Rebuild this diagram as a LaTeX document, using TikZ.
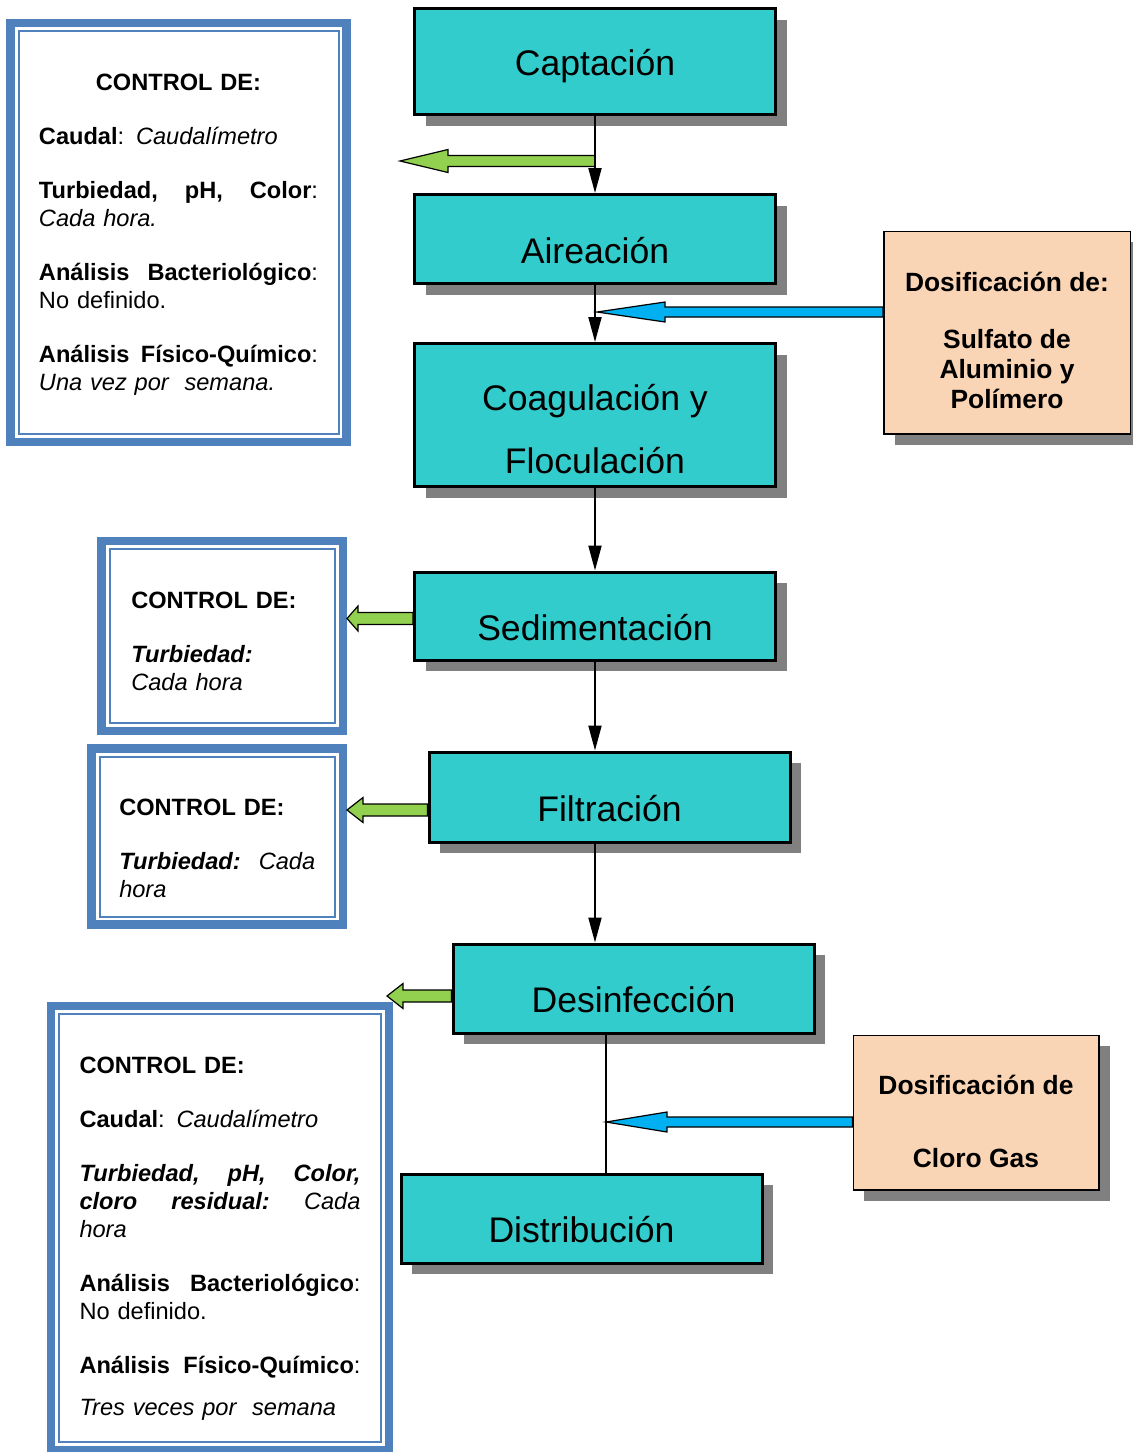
\documentclass[tikz,border=0pt]{standalone}
\usepackage{fontspec}
\setmainfont{Liberation Sans}
\usetikzlibrary{arrows.meta, calc, shadows}
\definecolor{procTeal}{HTML}{33CCCC}
\definecolor{dosPeach}{HTML}{FAD5B5}
\definecolor{ctrlBlue}{HTML}{4F81BD}
\definecolor{arrowGreen}{HTML}{92D050}
\definecolor{arrowBlue}{HTML}{00B0F0}
\definecolor{shadowGray}{HTML}{808080}

\newcommand{\blockleft}[6]{%
  \filldraw[#1] let \p1=(#2), \p2=(#3) in
    (\x1,\y2+#4) -- (\x2+#6,\y2+#4) -- (\x2+#6,\y2+#5) -- (\x2,\y2)
    -- (\x2+#6,\y2-#5) -- (\x2+#6,\y2-#4) -- (\x1,\y2-#4) -- cycle;}

\begin{document}
\begin{tikzpicture}[x=0.5pt, y=-0.5pt,
    procBox/.style={draw=black, line width=1.5pt, fill=procTeal, minimum width=180.5pt, minimum height=44.5pt, inner sep=0pt, font=\fontsize{17.8pt}{21pt}\selectfont, drop shadow={shadow xshift=5.5pt, shadow yshift=-5.5pt, fill=shadowGray, opacity=1}},
    procLine/.style={procBox, text height=24pt, text depth=0pt},
    dosBox/.style={draw=black, line width=0.75pt, fill=dosPeach, align=center, inner sep=0pt, font=\fontsize{13.2pt}{15pt}\selectfont\bfseries, drop shadow={shadow xshift=5.5pt, shadow yshift=-5.5pt, fill=shadowGray, opacity=1}},
    ctrlBox/.style={draw=ctrlBlue, line width=4.25pt, fill=white, align=left, inner sep=0pt, font=\fontsize{11.8pt}{14pt}\selectfont, path picture={\draw[ctrlBlue, line width=1pt] ([shift={(4pt,-4pt)}]path picture bounding box.north west) rectangle ([shift={(-4pt,4pt)}]path picture bounding box.south east);}},
    flowArrow/.style={draw=black, line width=1pt, -{Triangle[length=12.5pt, width=6.5pt]}},
    flowLine/.style={draw=black, line width=1pt},
    greenArrow/.style={draw=black, line width=0.6pt, fill=arrowGreen},
    blueArrow/.style={draw=black, line width=0.6pt, fill=arrowBlue},
]
\useasboundingbox (0,0) rectangle (1132,1452);

\node[procBox, minimum height=53pt, text height=14pt, text depth=0pt] (capt) at (595,61.5) {Captación};
\node[procLine] (aire) at (595,239) {Aireación};
\node[procBox, minimum height=71.5pt, align=center] (coag) at (595,415) {\rule{0pt}{27.2pt}Coagulación y\\[10.5pt]Floculación};
\node[procLine, minimum height=44pt] (sedim) at (595,616) {Sedimentación};
\node[procLine, minimum height=45pt] (filtr) at (609.5,797) {Filtración};
\node[procLine] (desinf) at (633.5,988.5) {Desinfección};
\node[procLine] (distr) at (581.5,1218.5) {Distribución};

\node[dosBox, minimum width=123.25pt, minimum height=101.25pt] (dos1) at (1007,332.5) {\rule{0pt}{17.5pt}Dosificación de:\\[13.5pt]Sulfato de\\Aluminio y\\Polímero};
\node[dosBox, minimum width=122.75pt, minimum height=77.25pt] (dos2) at (976,1112.5) {\rule{0pt}{18.5pt}Dosificación de\\[21.5pt]Cloro Gas};

\node[ctrlBox, minimum width=168pt, minimum height=209.5pt, text width=139.5pt] (ctrl1) at (178.5,232.5) {
    \makebox[\linewidth]{\rule{0pt}{10.5pt}\textbf{CONTROL DE:}}\\[13pt]
    \textbf{Caudal}: \textit{Caudalímetro}\\[13pt]
    \textbf{Turbiedad,}\hfill\textbf{pH,}\hfill\textbf{Color}:\\
    \textit{Cada hora.}\\[13pt]
    \textbf{Análisis}\hfill\textbf{Bacteriológico}:\\
    No definido.\\[13pt]
    \textbf{Análisis}\hfill\textbf{Físico-Químico}:\\
    \textit{Una vez por\ \ semana.}
};
\node[ctrlBox, minimum width=120.75pt, minimum height=95pt, text width=91pt] (ctrl2) at (222.25,636) {
    \rule{0pt}{13.5pt}\textbf{CONTROL DE:}\\[13pt]
    \textbf{\textit{Turbiedad:}}\\
    \textit{Cada hora}
};
\node[ctrlBox, minimum width=125.75pt, minimum height=88pt, text width=98pt] (ctrl3) at (217.25,836.5) {
    \rule{0pt}{20.5pt}\textbf{CONTROL DE:}\\[13pt]
    \textbf{\textit{Turbiedad:}}\hfill\textit{Cada}\\
    \textit{hora}
};
\node[ctrlBox, minimum width=169pt, minimum height=222pt, text width=140.5pt] (ctrl4) at (220,1228) {
    \rule{0pt}{19pt}\textbf{CONTROL DE:}\\[13pt]
    \textbf{Caudal}: \textit{Caudalímetro}\\[13pt]
    \textbf{\textit{Turbiedad,}}\hfill\textbf{\textit{pH,}}\hfill\textbf{\textit{Color,}}\\
    \textbf{\textit{cloro}}\hfill\textbf{\textit{residual:}}\hfill\textit{Cada}\\
    \textit{hora}\\[13pt]
    \textbf{Análisis}\hfill\textbf{Bacteriológico}:\\
    No definido.\\[13pt]
    \textbf{Análisis}\hfill\textbf{Físico-Químico}:\\[7pt]
    \textit{Tres veces por\ \ semana}
};

\coordinate (tipCap) at (400,161);
\coordinate (mixCoag) at (597,312);
\coordinate (tipSed) at (347,618.5);
\coordinate (tipFil) at (347,810);
\coordinate (tipDes) at (387,996);
\coordinate (mixDes) at (606,1122);

\blockleft{greenArrow}{capt.south}{tipCap}{2.75pt}{5.75pt}{24pt}
\blockleft{blueArrow}{dos1.west}{mixCoag}{2.5pt}{5pt}{34pt}
\blockleft{greenArrow}{sedim.west}{tipSed}{3pt}{6.25pt}{5.5pt}
\blockleft{greenArrow}{filtr.west}{tipFil}{3pt}{6.25pt}{8pt}
\blockleft{greenArrow}{desinf.west}{tipDes}{3pt}{6.25pt}{8pt}
\blockleft{blueArrow}{dos2.west}{mixDes}{2.5pt}{5pt}{30.5pt}

\draw[flowArrow] (capt.south) -- (aire.north);
\draw[flowArrow] (aire.south) -- (coag.north);
\draw[flowArrow] (coag.south) -- (sedim.north);
\draw[flowArrow] (sedim.south) -- (sedim.south |- filtr.north);
\draw[flowArrow] (sedim.south |- filtr.south) -- (sedim.south |- desinf.north);
\draw[flowLine] (mixDes |- desinf.south) -- (mixDes |- distr.north);
\end{tikzpicture}
\end{document}
